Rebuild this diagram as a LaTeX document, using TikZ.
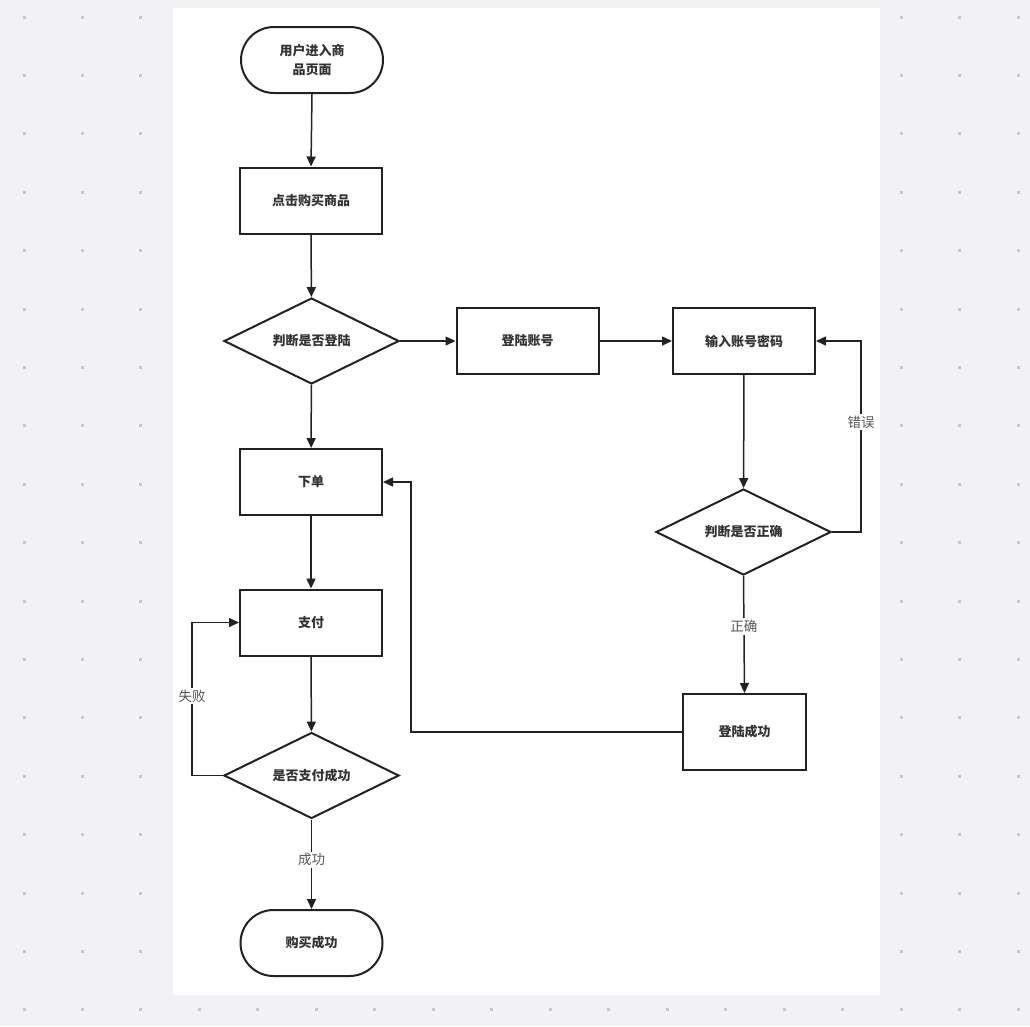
\documentclass[tikz,border=0pt]{standalone}
\usepackage{fontspec}
\setmainfont{Noto Sans CJK SC}
\newfontfamily\cjk{Noto Sans CJK SC}
\usetikzlibrary{shapes.geometric,arrows.meta}
\definecolor{bgc}{HTML}{F2F2F4}
\definecolor{dotc}{HTML}{C8C8CA}
\definecolor{linec}{HTML}{222222}
\definecolor{txtc}{HTML}{333333}
\definecolor{lblc}{HTML}{555555}
\tikzset{
  base/.style={draw=linec, line width=2pt, text=txtc, font=\cjk\bfseries\fontsize{13}{19}\selectfont, align=center, inner sep=0pt},
  procbox/.style={base, rectangle, minimum width=142pt, minimum height=66pt},
  termbox/.style={base, rectangle, rounded corners=33pt, minimum width=142pt, minimum height=66pt},
  decbox/.style={base, diamond, minimum width=175pt, minimum height=86pt, aspect=2.03},
  conn/.style={draw=linec, line width=1.5pt, -{Triangle[length=10pt,width=9pt]}},
  lbl/.style={fill=white, text=lblc, font=\cjk\fontsize{13.5}{16}\selectfont, inner sep=2pt}
}
\begin{document}
\begin{tikzpicture}[x=1pt,y=-1pt]
\useasboundingbox (0,0) rectangle (1030,1026);
\fill[bgc] (0,0) rectangle (1030,1026);
\foreach \i in {0,...,17}{
  \foreach \j in {0,...,17}{
    \fill[dotc] ({24+\i*58.47-1.5},{17+\j*58.4-1.5}) rectangle +(3,3);
  }
}
\fill[white] (173,8) rectangle (880,995);

\node[termbox] (start) at (312,60) {用户进入商\\品页面};
\node[procbox] (click) at (311,200.5) {点击购买商品};
\node[decbox] (login) at (311.5,341) {判断是否登陆};
\node[procbox] (acct) at (527.5,341) {登陆账号};
\node[procbox] (input) at (744,341) {输入账号密码};
\node[decbox] (check) at (743.5,532) {判断是否正确};
\node[procbox] (order) at (311,482) {下单};
\node[procbox] (pay) at (311,622.5) {支付};
\node[decbox] (paid) at (311.5,775.5) {是否支付成功};
\node[procbox, minimum width=123pt, minimum height=76pt] (ok) at (744.5,732) {登陆成功};
\node[termbox] (done) at (311.5,943) {购买成功};

\coordinate (e1) at (861,532);
\coordinate (e2) at (861,341);
\coordinate (s1) at (411,732);
\coordinate (s2) at (411,482);
\coordinate (f1) at (192,775.5);
\coordinate (f2) at (192,622.5);

\draw[conn] (start.south) -- (click.north);
\draw[conn] (click) -- (login);
\draw[conn] (login) -- (acct);
\draw[conn] (acct) -- (input);
\draw[conn] (input) -- (check);
\draw[conn] (check.east) -- (e1) -- node[lbl, pos=0.576]{错误} (e2) -- (input.east);
\draw[conn] (check.south) -- node[lbl, pos=0.43]{正确} (ok.north);
\draw[conn] (ok.west) -- (s1) -- (s2) -- (order.east);
\draw[conn] (login) -- (order);
\draw[conn] (order) -- (pay);
\draw[conn] (pay) -- (paid);
\draw[conn] (paid.west) -- (f1) -- node[lbl, pos=0.52]{失败} (f2) -- (pay.west);
\draw[conn] (paid.south) -- node[lbl, pos=0.45]{成功} (done.north);
\end{tikzpicture}
\end{document}
